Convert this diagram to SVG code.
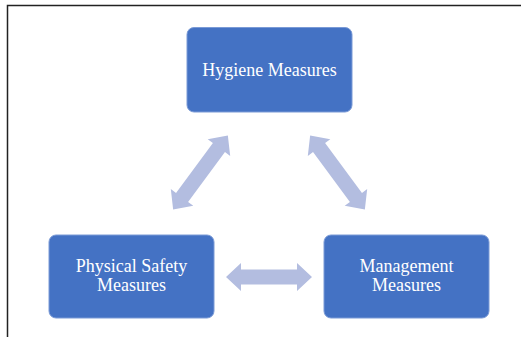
<svg xmlns="http://www.w3.org/2000/svg" width="521" height="337" viewBox="0 0 521 337">
  <style>
    .box { fill: #4472C4; stroke: #7A9AD6; stroke-width: 1; }
    .lbl { font-family: "Liberation Serif", "Times New Roman", serif; font-size: 18px; fill: #FFFFFF; text-anchor: middle; }
    .arr { fill: #B3BDE0; }
    .frame { stroke: #222222; stroke-width: 1.5; fill: none; }
  </style>
  <defs>
    <polygon id="dbl" points="-43,0 -28,-14 -28,-7.5 28,-7.5 28,-14 43,0 28,14 28,7.5 -28,7.5 -28,14"/>
    <polygon id="dblLong" points="-46,0 -31,-14 -31,-7.5 31,-7.5 31,-14 46,0 31,14 31,7.5 -31,7.5 -31,14"/>
  </defs>
  <rect width="521" height="337" fill="#FFFFFF"/>
  <path class="frame" d="M7.5,337 V5.5 H521"/>

  <g id="connectors">
    <use href="#dblLong" class="arr" transform="translate(200.5,172.5) rotate(-53.5)"/>
    <use href="#dblLong" class="arr" transform="translate(337.5,172.5) rotate(53.5)"/>
    <use href="#dbl" class="arr" transform="translate(269,277)"/>
  </g>

  <g id="hygiene">
    <rect class="box" x="187" y="27.5" width="165" height="84.5" rx="7"/>
    <text class="lbl" x="269.5" y="76">Hygiene Measures</text>
  </g>

  <g id="physical">
    <rect class="box" x="49" y="235" width="165" height="83" rx="7"/>
    <text class="lbl" x="131.5" y="272">Physical Safety</text>
    <text class="lbl" x="131.5" y="290.5">Measures</text>
  </g>

  <g id="management">
    <rect class="box" x="324" y="235" width="165" height="83" rx="7"/>
    <text class="lbl" x="406.5" y="272">Management</text>
    <text class="lbl" x="406.5" y="290.5">Measures</text>
  </g>
</svg>
